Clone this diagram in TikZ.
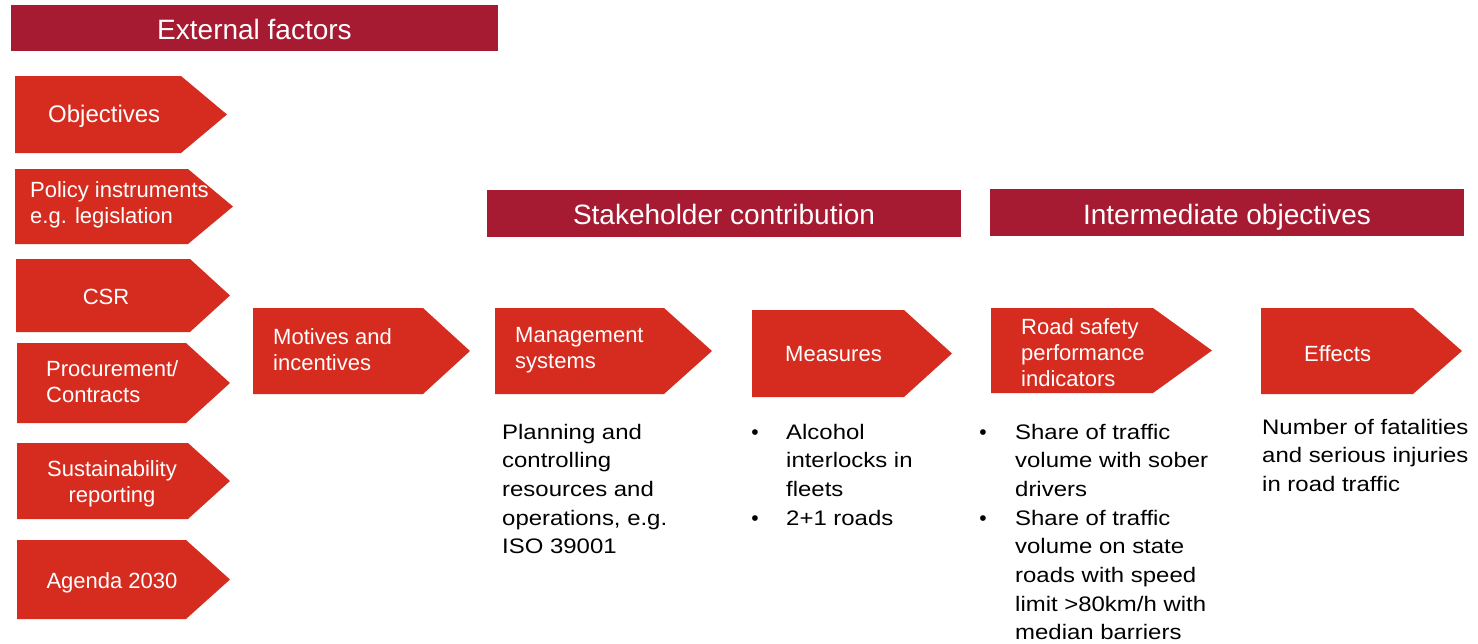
\documentclass[tikz,border=0pt]{standalone}
\usepackage{fontspec}
\setmainfont{Liberation Sans}
\newfontfamily\bodyfont[FakeStretch=1.14]{Liberation Sans}
\usepackage{xcolor}
\usepackage{tikz}
\definecolor{headred}{HTML}{A61A32}
\definecolor{arrowred}{HTML}{D62B1F}
% chevron: x1, y1, x2 (tip), y2, shoulder
\newcommand{\chev}[5]{%
  \fill[arrowred] (#1,#2) -- (#5,#2) -- (#3,{(#2+#4)/2}) -- (#5,#4) -- (#1,#4) -- cycle;}

\begin{document}
\begin{tikzpicture}[x=1pt,y=-1pt,
  headtext/.style={text=white,inner sep=0pt,anchor=base,font=\fontsize{28}{32}\selectfont},
  boxtext/.style={text=white,inner sep=0pt,align=left,font=\fontsize{22}{26}\selectfont},
  bodytext/.style={inner sep=0pt,align=left,anchor=base west,font=\bodyfont\fontsize{21}{28.7}\selectfont},
  dot/.style={inner sep=0pt,anchor=base,font=\fontsize{21}{29}\selectfont}]
\useasboundingbox (0,0) rectangle (1478,643);

%% headers
\fill[headred] (11,5) rectangle (498,51);
\node[headtext] (hext) at (254.5,39) {External factors};
\fill[headred] (487,190) rectangle (961,237);
\node[headtext] (hstake) at (724,224) {Stakeholder contribution};
\fill[headred] (990,189) rectangle (1464,236);
\node[headtext] (hinter) at (1227,224) {Intermediate objectives};

%% external factors
\chev{15}{76}{227}{153}{181}
\node[boxtext,anchor=west,font=\fontsize{24}{28}\selectfont] (obj) at (48,116) {Objectives};
\chev{15}{169}{233}{244}{188}
\node[boxtext,anchor=west] (pol) at (30,205) {Policy instruments\\e.g. legislation};
\chev{16}{259}{230}{332}{190}
\node[boxtext] (csr) at (106,297) {CSR};
\chev{17}{343}{230}{423}{186}
\node[boxtext,anchor=west] (proc) at (46,382) {Procurement/\\Contracts};
\chev{17}{443}{230}{519}{188}
\node[boxtext,align=center] (sust) at (112,484) {Sustainability\\reporting};
\chev{17}{540}{230}{619}{186}
\node[boxtext] (agenda) at (112,583) {Agenda 2030};

%%
\chev{253}{308}{470}{394}{423}
\node[boxtext,anchor=west] (mot) at (273,349.5) {Motives and\\incentives};

%% stakeholder contribution
\chev{495}{308}{712}{394}{664}
\node[boxtext,anchor=west] (mgmt) at (515,350) {Management\\systems};
\chev{752}{310}{952}{397}{904}
\node[boxtext,anchor=west] (meas) at (785,354) {Measures};

%% intermediate objectives
\chev{991}{308}{1212}{393}{1153}
\node[boxtext,anchor=west] (rspi) at (1021,353) {Road safety\\performance\\indicators};
\chev{1261}{308}{1462}{394}{1413}
\node[boxtext,anchor=west] (eff) at (1304,354) {Effects};

%% descriptions (anchored at the last baseline)
\node[bodytext] (plan) at (502,553.8) {Planning and\\controlling\\resources and\\operations, e.g.\\ISO 39001};
\node[dot] (mb1) at (755,439) {\textbullet};
\node[dot] (mb2) at (755,525.1) {\textbullet};
\node[bodytext] (meastxt) at (786,525.1) {Alcohol\\interlocks in\\fleets\\2+1 roads};
\node[dot] (rb1) at (983,439) {\textbullet};
\node[dot] (rb2) at (983,525.1) {\textbullet};
\node[bodytext] (rspitxt) at (1015,639.9) {Share of traffic\\volume with sober\\drivers\\Share of traffic\\volume on state\\roads with speed\\limit >80km/h with\\median barriers};
\node[bodytext] (efftxt) at (1262,491.4) {Number of fatalities\\and serious injuries\\in road traffic};
\end{tikzpicture}
\end{document}
